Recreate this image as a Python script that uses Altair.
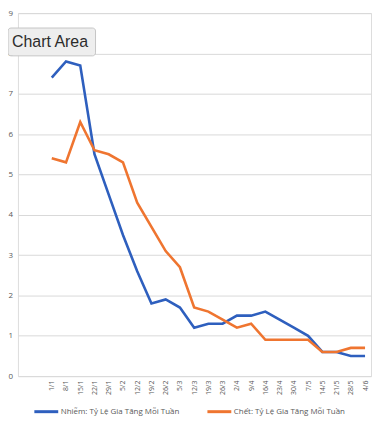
import altair as alt
import pandas as pd

weeks = ["1/1", "8/1", "15/1", "22/1", "29/1", "5/2", "12/2", "19/2", "26/2",
         "5/3", "12/3", "19/3", "26/3", "2/4", "9/4", "16/4", "23/4", "30/4",
         "7/5", "14/5", "21/5", "28/5", "4/6"]
infect = [7.4, 7.8, 7.7, 5.5, 4.5, 3.5, 2.6, 1.8, 1.9, 1.7, 1.2, 1.3, 1.3,
          1.5, 1.5, 1.6, 1.4, 1.2, 1.0, 0.6, 0.6, 0.5, 0.5]
death = [5.4, 5.3, 6.3, 5.6, 5.5, 5.3, 4.3, 3.7, 3.1, 2.7, 1.7, 1.6, 1.4,
         1.2, 1.3, 0.9, 0.9, 0.9, 0.9, 0.6, 0.6, 0.7, 0.7]
series_names = ["Nhiễm: Tỷ Lệ Gia Tăng   Mỗi Tuần", "Chết: Tỷ Lệ Gia Tăng Mỗi Tuần"]
colors = ["#2E5FBE", "#EF7530"]
y_ticks = [0, 1, 2, 3, 4, 5, 6, 7, 8, 9]

rows = []
for name, vals in zip(series_names, [infect, death]):
    for i, (w, v) in enumerate(zip(weeks, vals)):
        rows.append({"idx": i, "week": w, "value": v, "series": name})
df = pd.DataFrame(rows)

week_array = "[" + ",".join("'" + w + "'" for w in weeks) + "]"

lines = alt.Chart(df).mark_line(strokeWidth=2.6).encode(
    x=alt.X("idx:Q",
            scale=alt.Scale(domain=[-2.375, 22.42], nice=False, zero=False),
            axis=alt.Axis(title=None, values=list(range(len(weeks))),
                          labelExpr=week_array + "[datum.value]",
                          labelAngle=270, labelFontSize=7,
                          labelColor="#595959", domain=False, ticks=False,
                          grid=False, labelPadding=4, labelFlush=False,
                          labelOverlap=False)),
    y=alt.Y("value:Q", scale=alt.Scale(domain=[0, 9], nice=False),
            axis=alt.Axis(title=None, values=y_ticks, labelFontSize=8,
                          labelColor="#595959", domain=False, ticks=False,
                          labelAlign="left", labelPadding=10,
                          gridColor="#d9d9d9", gridWidth=1)),
    color=alt.Color("series:N", sort=series_names,
                    scale=alt.Scale(domain=series_names, range=colors),
                    legend=alt.Legend(title=None, orient="none", legendX=15,
                                      legendY=387, direction="horizontal",
                                      symbolType="stroke", symbolStrokeWidth=3,
                                      symbolSize=576, labelFontSize=8,
                                      labelColor="#595959", columnPadding=17,
                                      labelOffset=1)),
)

label_df = pd.DataFrame({"t": ["Chart Area"]})
box = alt.Chart(label_df).mark_rect(fill="#eeeeee", stroke="#c6c6c6",
                                    cornerRadius=3).encode(
    x=alt.value(-10), x2=alt.value(78), y=alt.value(15), y2=alt.value(43))
box_text = alt.Chart(label_df).mark_text(align="left", baseline="middle",
                                         fontSize=16, font="Liberation Sans",
                                         color="#2b2b2b").encode(
    x=alt.value(-6), y=alt.value(29), text="t:N")

chart = alt.layer(lines, box, box_text).properties(
    width=355, height=365,
    autosize=alt.AutoSizeParams(type="none"),
    padding={"left": 10, "top": 4, "right": 5, "bottom": 45},
).configure_view(stroke=None).configure(font="Open Sans")

chart.save("out.html", embed_options={"renderer": "svg", "actions": False})
